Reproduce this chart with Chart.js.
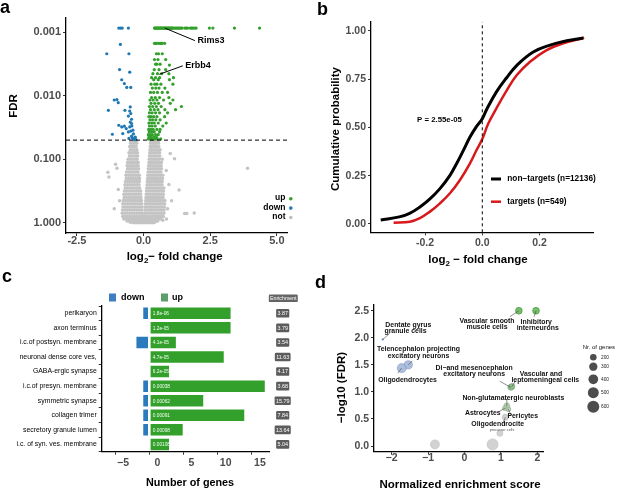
<!DOCTYPE html>
<html><head><meta charset="utf-8">
<script src="https://cdn.jsdelivr.net/npm/chart.js@4.4.1/dist/chart.umd.min.js"></script>
<style>
html,body{margin:0;padding:0;background:#fff;}
#wrap{position:relative;width:617px;height:490px;overflow:hidden;background:#fff;}
#wrap canvas{position:absolute;left:0;top:0;}
</style></head><body>
<div id="wrap">
<canvas id="ca" width="617" height="490"></canvas>
<canvas id="cb" width="617" height="490"></canvas>
<canvas id="cc" width="617" height="490"></canvas>
<canvas id="cd" width="617" height="490"></canvas>
</div>
<script>
// ================= DATA =================
// Panel a: volcano plot (log2 fold change, FDR)
const upPts = [
 [0.41,0.000865],[0.43,0.000865],[0.45,0.000865],[0.48,0.000865],[0.50,0.000865],[0.53,0.000865],[0.55,0.000865],[0.58,0.000865],[0.60,0.000865],[0.63,0.000865],[0.65,0.000865],[0.68,0.000865],[0.70,0.000865],[0.73,0.000865],[0.75,0.000865],[0.78,0.000865],[0.80,0.000865],[0.83,0.000865],[0.85,0.000865],[0.88,0.000865],[0.90,0.000865],[0.93,0.000865],[0.95,0.000865],[0.98,0.000865],[1.00,0.000865],[1.03,0.000865],[1.05,0.000865],[1.08,0.000865],[1.10,0.000865],[1.15,0.000865],[1.20,0.000865],[1.24,0.000865],[1.28,0.000865],[1.32,0.000865],[1.36,0.000865],[1.40,0.000865],[1.45,0.000865],[1.55,0.000865],[1.60,0.000865],[1.65,0.000865],[1.75,0.000865],[1.80,0.000865],[1.85,0.000865],[1.92,0.000865],[1.97,0.000865],[2.47,0.000865],[2.60,0.000865],[3.41,0.000865],[4.35,0.000865],
 [0.41,0.0015],[0.45,0.0015],[0.48,0.0015],[0.55,0.0015],[0.62,0.0015],[0.66,0.0015],[0.70,0.0015],[0.79,0.0015],
 [0.48,0.00219],[0.56,0.00219],[0.70,0.00219],
 [0.41,0.0027],[0.54,0.0027],[0.83,0.0027],
 [0.45,0.0032],[0.50,0.0032],[0.62,0.0032],[0.97,0.0033],
 [0.40,0.0039],[0.58,0.0039],[0.83,0.0039],
 [0.35,0.0045],[0.52,0.0045],[0.68,0.0045],[0.95,0.0045],
 [0.30,0.0052],[0.45,0.0052],[0.60,0.0052],[1.12,0.0052],
 [0.38,0.0056],[0.55,0.0056],[0.97,0.0056],
 [0.28,0.0066],[0.42,0.0066],[0.50,0.0066],[0.65,0.0066],[1.10,0.0066],
 [0.33,0.0076],[0.46,0.0076],[0.58,0.0076],[0.80,0.0076],
 [0.26,0.0089],[0.38,0.0089],[0.52,0.0089],[0.70,0.0089],[0.90,0.0089],
 [0.30,0.0107],[0.44,0.0107],[0.60,0.0107],[0.95,0.0107],
 [0.24,0.0117],[0.36,0.0117],[0.50,0.0117],[0.75,0.0117],[1.10,0.0117],
 [0.28,0.0132],[0.42,0.0132],[0.56,0.0132],[1.00,0.0132],
 [0.22,0.0148],[0.34,0.0148],[0.48,0.0148],[0.66,0.0148],[1.42,0.0148],
 [0.26,0.0166],[0.40,0.0166],[0.54,0.0166],[0.80,0.0166],[1.20,0.0166],
 [0.22,0.0186],[0.32,0.0186],[0.45,0.0186],[0.60,0.0186],[0.90,0.0186],
 [0.20,0.0214],[0.28,0.0214],[0.38,0.0214],[0.50,0.0214],[0.79,0.0214],
 [0.24,0.024],[0.34,0.024],[0.46,0.024],[0.62,0.024],
 [0.20,0.0269],[0.30,0.0269],[0.40,0.0269],[0.55,0.0269],[0.85,0.0269],
 [0.22,0.030],[0.32,0.030],[0.44,0.030],[0.72,0.030],
 [0.19,0.034],[0.27,0.034],[0.36,0.034],[0.50,0.034],[0.62,0.034],
 [0.21,0.037],[0.30,0.037],[0.40,0.037],[0.60,0.037],
 [0.18,0.041],[0.25,0.041],[0.33,0.041],[0.45,0.041],[0.55,0.041],
 [0.20,0.0447],[0.28,0.0447],[0.38,0.0447],[0.48,0.0447],
 [0.18,0.0479],[0.24,0.0479],[0.31,0.0479],[0.42,0.0479],[0.52,0.0479],[0.64,0.0479]
];
const downPts = [
 [-0.93,0.000865],[-0.86,0.000865],[-0.80,0.000865],[-0.57,0.000865],
 [-0.87,0.00156],[-1.38,0.00219],[-0.55,0.00219],[-0.90,0.00389],[-0.52,0.00427],
 [-0.82,0.00562],[-0.72,0.00646],[-0.63,0.00741],[-0.48,0.00741],
 [-1.10,0.0117],[-1.00,0.0115],[-0.95,0.0129],[-1.32,0.0170],
 [-0.70,0.0170],[-0.52,0.0174],[-0.48,0.0191],[-0.57,0.0209],[-0.45,0.0235],[-0.50,0.0150],
 [-0.93,0.0292],[-0.82,0.0310],[-0.72,0.0302],[-0.65,0.0329],[-0.52,0.0310],[-0.45,0.0274],
 [-0.40,0.0349],[-0.57,0.0372],[-0.78,0.0394],[-1.17,0.0404],[-0.45,0.0434],[-0.55,0.0471],
 [-0.42,0.046],[-0.36,0.048],[-0.31,0.045],[-0.38,0.040],[-0.48,0.036],[-0.44,0.030],[-0.50,0.026],[-0.34,0.049],[-0.29,0.049]
];
const notFDR = [0.052,0.056,0.063,0.071,0.079,0.089,0.100,0.112,0.126,0.141,0.158,0.178,0.200,0.224,0.251,0.282,0.316,0.355,0.398,0.447,0.500,0.562,0.631,0.708,0.794,0.871,0.933,0.977,1.0];
const notLFC = [
 [-0.47,-0.40,-0.33,-0.27,0.27,0.34,0.41,0.48,0.55],
 [-0.49,-0.41,-0.34,-0.26,0.26,0.33,0.40,0.47,0.56],
 [-0.52,-0.44,-0.36,-0.28,0.25,0.32,0.40,0.48,0.57],
 [-0.50,-0.42,-0.33,-0.25,0.24,0.31,0.39,0.46,0.54,0.62],
 [-0.55,-0.46,-0.38,-0.30,-0.23,0.23,0.30,0.37,0.45,0.53,0.60],
 [-0.53,-0.45,-0.36,-0.28,-0.22,0.22,0.29,0.37,0.44,0.52,0.61],
 [-0.58,-0.49,-0.41,-0.32,-0.24,0.21,0.28,0.36,0.44,0.52,0.60,0.70],
 [-0.60,-0.51,-0.43,-0.35,-0.27,-0.20,0.20,0.27,0.35,0.43,0.51,0.59,0.67],
 [-0.62,-0.53,-0.45,-0.36,-0.28,-0.20,0.19,0.26,0.34,0.42,0.50,0.58,0.66],
 [-0.60,-0.52,-0.43,-0.35,-0.27,-0.19,0.18,0.26,0.34,0.42,0.50,0.58,0.67],
 [-0.64,-0.55,-0.46,-0.38,-0.29,-0.21,0.17,0.25,0.33,0.41,0.49,0.57,0.65],
 [-0.66,-0.57,-0.48,-0.40,-0.31,-0.23,-0.16,0.16,0.24,0.32,0.40,0.48,0.56,0.64,0.72],
 [-0.65,-0.56,-0.47,-0.38,-0.30,-0.22,-0.15,0.15,0.23,0.31,0.39,0.47,0.55,0.63,0.71],
 [-0.68,-0.59,-0.50,-0.41,-0.32,-0.24,-0.16,0.14,0.22,0.30,0.38,0.46,0.54,0.62,0.70],
 [-0.70,-0.61,-0.52,-0.43,-0.34,-0.25,-0.17,0.13,0.21,0.29,0.37,0.45,0.53,0.61,0.69],
 [-0.69,-0.60,-0.51,-0.42,-0.33,-0.24,-0.15,0.12,0.20,0.28,0.36,0.44,0.52,0.60,0.68,0.76],
 [-0.72,-0.63,-0.54,-0.45,-0.36,-0.27,-0.18,-0.11,0.11,0.19,0.27,0.35,0.43,0.51,0.59,0.67,0.75],
 [-0.74,-0.65,-0.56,-0.47,-0.38,-0.29,-0.20,-0.11,0.10,0.18,0.26,0.34,0.42,0.50,0.58,0.66,0.74],
 [-0.73,-0.64,-0.55,-0.46,-0.37,-0.28,-0.19,-0.10,0.09,0.17,0.25,0.33,0.41,0.49,0.57,0.65,0.73],
 [-0.76,-0.67,-0.58,-0.49,-0.40,-0.31,-0.22,-0.14,-0.08,0.08,0.16,0.24,0.32,0.40,0.48,0.56,0.64,0.72,0.80],
 [-0.78,-0.69,-0.60,-0.51,-0.42,-0.33,-0.24,-0.15,-0.07,0.07,0.15,0.23,0.31,0.39,0.47,0.55,0.63,0.71,0.79],
 [-0.77,-0.68,-0.59,-0.50,-0.41,-0.32,-0.23,-0.14,-0.06,0.06,0.14,0.22,0.30,0.38,0.46,0.54,0.62,0.70,0.78],
 [-0.79,-0.70,-0.61,-0.52,-0.43,-0.34,-0.25,-0.16,-0.07,0.05,0.13,0.21,0.29,0.37,0.45,0.53,0.61,0.69,0.77],
 [-0.80,-0.71,-0.62,-0.53,-0.44,-0.35,-0.26,-0.17,-0.09,-0.04,0.04,0.12,0.20,0.28,0.36,0.44,0.52,0.60,0.68,0.76],
 [-0.78,-0.69,-0.60,-0.51,-0.42,-0.33,-0.24,-0.15,-0.07,-0.03,0.03,0.10,0.18,0.26,0.34,0.42,0.50,0.58,0.66,0.74],
 [-0.74,-0.65,-0.56,-0.47,-0.38,-0.29,-0.20,-0.12,-0.05,0.02,0.09,0.17,0.25,0.33,0.41,0.49,0.57,0.65],
 [-0.62,-0.53,-0.44,-0.35,-0.26,-0.17,-0.09,-0.02,0.05,0.13,0.21,0.29,0.37,0.45,0.53],
 [-0.50,-0.41,-0.32,-0.23,-0.14,-0.06,0.02,0.10,0.18,0.26,0.34,0.42],
 [-0.38,-0.28,-0.18,-0.09,0,0.09,0.18,0.28,0.36]
];
const notOutliers = [[-1.30,0.19],[-1.34,0.16],[-1.0,0.138],[-1.05,0.12],[3.9,0.139],[1.33,0.305],[1.54,0.71],[1.62,0.71],[1.9,0.70],[0.72,0.91],[0.86,0.87],[1.0,0.081],[1.16,0.098],[-0.95,0.30],[-0.9,0.45],[0.95,0.25],[1.05,0.45],[0.9,0.6],[-1.1,0.6],[0.85,0.15]];
const volcanoXTicks = [-2.5, 0, 2.5, 5];
const volcanoYTicks = [0.001, 0.01, 0.1, 1];
const fdrCut = 0.05;
const labeledGenes = ['Rims3', 'Erbb4'];
const labeledGeneLFC = [0.80, 0.59];
const labeledGeneFDR = [0.000865, 0.00461];
const volcanoGroups = ['up', 'down', 'not'];

// Panel b: cumulative distributions
const ntLFC = [-0.355,-0.29,-0.254,-0.218,-0.183,-0.148,-0.113,-0.09,-0.066,-0.043,-0.02,0,0.016,0.05,0.085,0.12,0.178,0.237,0.295,0.353];
const ntCum = [0.021,0.037,0.055,0.088,0.13,0.183,0.252,0.312,0.381,0.45,0.505,0.545,0.595,0.685,0.757,0.82,0.89,0.926,0.948,0.963];
const tLFC = [-0.31,-0.253,-0.218,-0.183,-0.148,-0.113,-0.078,-0.043,-0.02,0,0.021,0.05,0.085,0.12,0.167,0.225,0.283,0.356];
const tCum = [0.007,0.012,0.03,0.064,0.107,0.159,0.228,0.314,0.383,0.44,0.52,0.6,0.69,0.77,0.84,0.9,0.935,0.964];
const cdfXTicks = [-0.2, 0, 0.2];
const cdfYTicks = [0, 0.25, 0.5, 0.75, 1];
const cdfLabels = ['non\u2212targets (n=12136)', 'targets (n=549)'];
const ksText = 'P = 2.55e-05';

// Panel c: GO terms
const goTerms = ['perikaryon','axon terminus','i.c.of postsyn. membrane','neuronal dense core ves,','GABA-ergic synapse','i.c.of presyn. membrane','symmetric synapse','collagen trimer','secretory granule lumen','i.c. of syn. ves. membrane'];
const goDown = [-1,0,-2,0,0,-1,-1,-1,-1,0];
const goUp = [12,12,4,11,3,17,8,14,5,3];
const goP = ['1.8e-06','1.2e-05','4.1e-05','4.7e-05','6.2e-05','0.00038','0.00062','0.00091','0.00098','0.00108'];
const goEnrich = ['3.87','3.79','3.54','11.63','4.17','3.68','15.79','7.84','13.64','5.04'];
const goXTicks = [-5, 0, 5, 10, 15];

// Panel d: cell-type enrichment
const cellTypes = ['Inhibitory interneurons','Vascular smooth muscle cells','Dentate gyrus granule cells','Telencephalon projecting excitatory neurons','Oligodendrocytes','Di\u2212and mesencephalon excitatory neurons','Vascular and leptomeningeal cells','Non-glutamatergic neuroblasts','Astrocytes','Pericytes','Oligodendrocite precursor cells','','',''];
const cellNES = [1.96,1.49,-2.24,-1.54,-1.72,1.27,1.30,1.16,1.11,1.20,1.12,0.97,0.77,-0.81];
const cellNegLogFDR = [2.50,2.50,1.97,1.50,1.44,1.085,1.10,0.74,0.70,0.68,0.53,0.235,0.03,0.03];
const cellNGenes = [210,210,36,290,349,170,170,170,126,126,170,170,508,349];
const sizeLegend = [200,300,400,500,600];
const nesXTicks = [-2,-1,0,1,2];
const fdrYTicks = [0,0.5,1,1.5,2,2.5];

// ================= STYLE =================
const FONT = '"Liberation Sans", Arial, Helvetica, sans-serif';
let narrowOK = false;
(function(){const c=document.createElement('canvas').getContext('2d');c.font='20px "Liberation Sans Narrow", monospace';const a=c.measureText('abcdefghijklmnop').width;c.font='20px monospace';const b=c.measureText('abcdefghijklmnop').width;narrowOK=Math.abs(a-b)>0.5;})();
const NF = narrowOK ? '"Liberation Sans Narrow", "Liberation Sans", sans-serif' : FONT;
const NS = narrowOK ? 1 : 0.82;
Chart.defaults.font.family = FONT;
const W = 617, H = 490;
const GREEN = '#33a02c', BLUE = '#1f78b4', GRAY = 'rgb(196,196,196)';
const TICKCOL = '#4d4d4d';

function T(ctx, s, x, y, size, o) {
  o = o || {};
  ctx.save();
  ctx.font = (o.weight || 'bold') + ' ' + size + 'px ' + (o.family || FONT);
  ctx.fillStyle = o.color || '#000';
  ctx.textAlign = o.align || 'center';
  ctx.textBaseline = o.baseline || 'middle';
  ctx.translate(x, y);
  if (o.rot) ctx.rotate(o.rot);
  ctx.fillText(s, 0, 0);
  ctx.restore();
}
function Ln(ctx, x1, y1, x2, y2, color, w, dash) {
  ctx.save(); ctx.strokeStyle = color; ctx.lineWidth = w; if (dash) ctx.setLineDash(dash);
  ctx.beginPath(); ctx.moveTo(x1, y1); ctx.lineTo(x2, y2); ctx.stroke(); ctx.restore();
}
function Title(ctx, parts, x, y, size, rot) {
  ctx.save(); ctx.translate(x, y); if (rot) ctx.rotate(rot);
  ctx.fillStyle = '#000'; ctx.textBaseline = 'middle'; ctx.textAlign = 'left';
  const big = 'bold ' + size + 'px ' + FONT, small = 'bold ' + (size * 0.7).toFixed(1) + 'px ' + FONT;
  let w = 0; const ws = parts.map(p => { ctx.font = p[1] ? small : big; const m = ctx.measureText(p[0]).width; w += m; return m; });
  let cx = -w / 2;
  parts.forEach((p, i) => { ctx.font = p[1] ? small : big; ctx.fillText(p[0], cx, p[1] ? size * 0.3 : 0); cx += ws[i]; });
  ctx.restore();
}
function rr(ctx, x, y, w, h, r, fill) {
  ctx.save(); ctx.fillStyle = fill; ctx.beginPath();
  ctx.moveTo(x + r, y); ctx.lineTo(x + w - r, y); ctx.quadraticCurveTo(x + w, y, x + w, y + r);
  ctx.lineTo(x + w, y + h - r); ctx.quadraticCurveTo(x + w, y + h, x + w - r, y + h);
  ctx.lineTo(x + r, y + h); ctx.quadraticCurveTo(x, y + h, x, y + h - r);
  ctx.lineTo(x, y + r); ctx.quadraticCurveTo(x, y, x + r, y); ctx.closePath(); ctx.fill(); ctx.restore();
}
function axisStyle(extra) {
  const base = {
    border: { display: true, color: '#000', width: 1.3 },
    grid: { display: true, drawOnChartArea: false, drawTicks: true, tickLength: 3, color: '#333', lineWidth: 1 },
    ticks: { color: TICKCOL, font: { family: FONT, size: 10.5, weight: 'bold' }, padding: 2, maxRotation: 0, autoSkip: false }
  };
  for (const k in extra) {
    if (k === 'ticks' || k === 'grid' || k === 'border') base[k] = Object.assign(base[k], extra[k]);
    else base[k] = extra[k];
  }
  return base;
}
const common = { responsive: false, animation: false, events: [], plugins: { legend: { display: false }, tooltip: { enabled: false } } };
function pad(l, t, r, b, yw, xh) { return { left: l - yw, top: t, right: W - r, bottom: H - b - xh }; }

// ================= PANEL A =================
const xA = { min: -2.91, max: 5.38 }, yA = { min: 0.00061, max: 1.445 };
const notPts = [];
notFDR.forEach((f, i) => notLFC[i].forEach(x => notPts.push({ x: x, y: f })));
notOutliers.forEach(p => notPts.push({ x: p[0], y: p[1] }));
new Chart(document.getElementById('ca'), {
  type: 'scatter',
  data: { datasets: [
    { label: 'FDR 0.05', data: [{ x: xA.min, y: fdrCut }, { x: xA.max, y: fdrCut }], showLine: true, borderColor: '#000', borderWidth: 1, borderDash: [4, 3], pointRadius: 0 },
    { label: 'up', data: upPts.map(p => ({ x: p[0], y: p[1] })), backgroundColor: GREEN, borderWidth: 0, pointRadius: 1.6 },
    { label: 'down', data: downPts.map(p => ({ x: p[0], y: p[1] })), backgroundColor: BLUE, borderWidth: 0, pointRadius: 1.6 },
    { label: 'not', data: notPts, backgroundColor: GRAY, borderWidth: 0, pointRadius: 1.75 }
  ] },
  options: Object.assign({}, common, {
    layout: { padding: pad(66, 18, 287, 233, 40, 20) },
    scales: {
      x: axisStyle({ type: 'linear', min: xA.min, max: xA.max,
        afterFit: s => { s.height = 20; },
        afterBuildTicks: s => { s.ticks = volcanoXTicks.map(v => ({ value: v })); },
        ticks: { padding: -1.5, callback: v => v.toFixed(1), font: { family: FONT, size: 11, weight: 'bold' } } }),
      y: axisStyle({ type: 'logarithmic', reverse: true, min: yA.min, max: yA.max,
        afterFit: s => { s.width = 40; },
        afterBuildTicks: s => { s.ticks = volcanoYTicks.map(v => ({ value: v })); },
        ticks: { callback: v => Number(v).toFixed(3), font: { family: FONT, size: 11, weight: 'bold' } } })
    }
  }),
  plugins: [{ id: 'annA', afterDraw(chart) {
    const ctx = chart.ctx, sx = chart.scales.x, sy = chart.scales.y;
    const ends = [[30, 12.5], [23.5, -8.5]];
    labeledGenes.forEach((g, i) => {
      const px = sx.getPixelForValue(labeledGeneLFC[i]), py = sy.getPixelForValue(labeledGeneFDR[i]);
      Ln(ctx, px, py, px + ends[i][0], py + ends[i][1], '#000', 1);
      T(ctx, g, px + ends[i][0] + 2.5, py + ends[i][1], 9, { align: 'left' });
    });
    const cols = [GREEN, BLUE, 'rgb(190,190,190)'], ys = [198, 207.3, 216.7];
    volcanoGroups.forEach((g, i) => {
      T(ctx, g, 285.5, ys[i], 8.5, { align: 'right' });
      ctx.save(); ctx.fillStyle = cols[i]; ctx.beginPath(); ctx.arc(290.8, ys[i] + 0.8, 1.8, 0, Math.PI * 2); ctx.fill(); ctx.restore();
    });
    T(ctx, 'FDR', 13.5, 106, 11.5, { rot: -Math.PI / 2 });
    Title(ctx, [['log', 0], ['2', 1], ['\u2212 fold change', 0]], 174.7, 257, 11.5);
    T(ctx, 'a', 0, 13, 18, { align: 'left', baseline: 'alphabetic' });
  } }]
});

// ================= PANEL B =================
const xB = { min: -0.389, max: 0.388 }, yB = { min: -0.043, max: 1.047 };
new Chart(document.getElementById('cb'), {
  type: 'scatter',
  data: { datasets: [
    { label: 'zero', data: [{ x: 0, y: yB.min }, { x: 0, y: yB.max }], showLine: true, borderColor: '#000', borderWidth: 1, borderDash: [3, 3], pointRadius: 0 },
    { label: cdfLabels[0], data: ntLFC.map((x, i) => ({ x: x, y: ntCum[i] })), showLine: true, borderColor: '#000', borderWidth: 3, pointRadius: 0, tension: 0.4 },
    { label: cdfLabels[1], data: tLFC.map((x, i) => ({ x: x, y: tCum[i] })), showLine: true, borderColor: '#d7191c', borderWidth: 2.5, pointRadius: 0, tension: 0.4 }
  ] },
  options: Object.assign({}, common, {
    layout: { padding: pad(371, 21.7, 593.3, 232.3, 40, 20) },
    scales: {
      x: axisStyle({ type: 'linear', min: xB.min, max: xB.max,
        afterFit: s => { s.height = 20; },
        afterBuildTicks: s => { s.ticks = cdfXTicks.map(v => ({ value: v })); },
        ticks: { callback: v => v.toFixed(1) } }),
      y: axisStyle({ type: 'linear', min: yB.min, max: yB.max,
        afterFit: s => { s.width = 40; },
        afterBuildTicks: s => { s.ticks = cdfYTicks.map(v => ({ value: v })); },
        ticks: { callback: v => v.toFixed(2) } })
    }
  }),
  plugins: [{ id: 'annB', afterDraw(chart) {
    const ctx = chart.ctx;
    T(ctx, ksText, 439.5, 119.5, 7.8);
    Ln(ctx, 491, 179, 501, 179, '#000', 3);
    Ln(ctx, 491, 201.7, 501, 201.7, '#d7191c', 2.5);
    T(ctx, cdfLabels[0], 507.3, 179, 8.3, { align: 'left' });
    T(ctx, cdfLabels[1], 507.3, 201.7, 8.3, { align: 'left' });
    T(ctx, 'Cumulative probability', 336, 129, 11.5, { rot: -Math.PI / 2 });
    Title(ctx, [['log', 0], ['2', 1], [' \u2212 fold change', 0]], 478, 260, 11.5);
    T(ctx, 'b', 317, 15, 18, { align: 'left', baseline: 'alphabetic' });
  } }]
});

// ================= PANEL C =================
new Chart(document.getElementById('cc'), {
  type: 'bar',
  data: { labels: goTerms, datasets: [
    { label: 'up', data: goUp, backgroundColor: GREEN, borderColor: 'rgba(255,255,255,0.85)', borderWidth: 0.8, borderSkipped: false, barPercentage: 0.9, categoryPercentage: 1 },
    { label: 'down', data: goDown, backgroundColor: '#2a7bbd', borderColor: 'rgba(255,255,255,0.85)', borderWidth: 0.8, borderSkipped: false, barPercentage: 0.9, categoryPercentage: 1 }
  ] },
  options: Object.assign({}, common, {
    indexAxis: 'y',
    layout: { padding: pad(101.7, 306, 269, 451.7, 100, 20) },
    scales: {
      x: axisStyle({ type: 'linear', stacked: true, min: -6.96, max: 17.5,
        afterFit: s => { s.height = 20; },
        afterBuildTicks: s => { s.ticks = goXTicks.map(v => ({ value: v })); },
        ticks: { labelOffset: 8, callback: v => v < 0 ? '\u2212' + (-v) : String(v) } }),
      y: axisStyle({ type: 'category', stacked: true,
        afterFit: s => { s.width = 100; },
        ticks: { color: '#000', font: { family: NF, size: +(8.4 * NS).toFixed(2), weight: 'normal' } } })
    }
  }),
  plugins: [{ id: 'annC', afterDraw(chart) {
    const ctx = chart.ctx, meta = chart.getDatasetMeta(0);
    meta.data.forEach((el, i) => {
      T(ctx, goP[i], el.base + 3, el.y + 0.5, +(5.8 * NS).toFixed(2), { align: 'left', weight: 'normal', family: NF, color: '#f2fff0' });
      ctx.save(); ctx.font = 'normal ' + (6.6 * NS).toFixed(2) + 'px ' + NF;
      const w = ctx.measureText(goEnrich[i]).width + 2.6; ctx.restore();
      rr(ctx, 282.7 - w / 2, el.y - 4.3, w, 8.6, 1.2, '#5c5c5c');
      T(ctx, goEnrich[i], 282.7, el.y + 0.3, +(6.6 * NS).toFixed(2), { weight: 'normal', family: NF, color: '#fff' });
    });
    ctx.save(); ctx.font = 'normal ' + (6.4 * NS).toFixed(2) + 'px ' + NF;
    const hw = ctx.measureText('Enrichment').width + 2.4; ctx.restore();
    rr(ctx, 283.3 - hw / 2, 294.5, hw, 7.6, 1.2, '#646464');
    T(ctx, 'Enrichment', 283.3, 298.5, +(6.4 * NS).toFixed(2), { weight: 'normal', family: NF, color: '#fff' });
    ctx.save(); ctx.fillStyle = '#3f7fbf'; ctx.fillRect(109, 293.5, 7, 8); ctx.fillStyle = '#5d9e6a'; ctx.fillRect(161, 293.5, 7, 8); ctx.restore();
    T(ctx, 'down', 121, 297.5, 9, { align: 'left' });
    T(ctx, 'up', 172, 297.5, 9, { align: 'left' });
    T(ctx, 'Number of genes', 190, 483, 10.8);
    T(ctx, 'c', 2, 282, 18, { align: 'left', baseline: 'alphabetic' });
  } }]
});

// ================= PANEL D =================
const rOf = n => Math.sqrt(Math.max(0.6, 0.0628 * n - 1.65));
const bubbleFill = ['rgba(92,180,80,0.85)','rgba(92,180,80,0.85)','rgba(120,150,200,0.9)','rgba(160,180,215,0.85)','rgba(160,180,215,0.85)','rgba(140,185,135,0.8)','rgba(140,185,135,0.8)','rgba(170,198,165,0.8)','rgba(170,198,165,0.8)','rgba(170,198,165,0.8)','rgba(200,204,200,0.85)','rgba(205,205,205,0.9)','rgba(205,205,205,0.9)','rgba(205,205,205,0.9)'];
const bubbleEdge = ['#3f8f3a','#3f8f3a','#5a7fb5','#7d95c2','#7d95c2','#6f9f6b','#6f9f6b','#8fae8b','#8fae8b','#8fae8b','#a8aca8','#bdbdbd','#bdbdbd','#bdbdbd'];
new Chart(document.getElementById('cd'), {
  type: 'bubble',
  data: { datasets: [{ label: 'cell types', data: cellNES.map((x, i) => ({ x: x, y: cellNegLogFDR[i], r: rOf(cellNGenes[i]) })), backgroundColor: bubbleFill, borderColor: bubbleEdge, borderWidth: 0.6 }] },
  options: Object.assign({}, common, {
    layout: { padding: pad(374, 305, 543.3, 451.7, 40, 20) },
    scales: {
      x: axisStyle({ type: 'linear', min: -2.48, max: 2.16,
        afterFit: s => { s.height = 20; },
        afterBuildTicks: s => { s.ticks = nesXTicks.map(v => ({ value: v })); },
        ticks: { padding: -2.5, callback: v => v < 0 ? '\u2212' + (-v) : String(v) } }),
      y: axisStyle({ type: 'linear', min: -0.105, max: 2.606,
        afterFit: s => { s.width = 40; },
        afterBuildTicks: s => { s.ticks = fdrYTicks.map(v => ({ value: v })); },
        ticks: { callback: v => v.toFixed(1) } })
    }
  }),
  plugins: [{ id: 'annD', afterDraw(chart) {
    const ctx = chart.ctx, sx = chart.scales.x, sy = chart.scales.y;
    const P = i => [sx.getPixelForValue(cellNES[i]), sy.getPixelForValue(cellNegLogFDR[i])];
    const leads = [[0, -2, 6], [1, -9, 6], [2, 7, -6], [3, 4, -4], [4, -4, 5], [5, -11, -6], [6, 4, -6], [7, 0, -7], [8, -5, 3], [9, 3, 6], [10, -2.5, 6]];
    leads.forEach(l => { const p = P(l[0]); Ln(ctx, p[0], p[1], p[0] + l[1], p[1] + l[2], '#444', 0.6); });
    const fs = 6.9;
    const labs = [
      ['Inhibitory', 536.2, 321.7], ['interneurons', 537.7, 328],
      ['Vascular smooth', 487, 320.7], ['muscle cells', 487, 326.9],
      ['Dentate gyrus', 408.3, 325], ['granule cells', 405.5, 331.2],
      ['Telencephalon projecting', 418.5, 349.3], ['excitatory neurons', 418.5, 355.6],
      ['Oligodendrocytes', 407.5, 380],
      ['Di\u2212and mesencephalon', 474.2, 368.3], ['excitatory neurons', 474.2, 374.5],
      ['Vascular and', 541, 374], ['leptomeningeal cells', 545.3, 380.2],
      ['Non-glutamatergic neuroblasts', 513.3, 398.3],
      ['Astrocytes', 482.8, 412.7], ['Pericytes', 522.7, 415.7],
      ['Oligodendrocite', 497.7, 424]
    ];
    labs.forEach(l => T(ctx, l[0], l[1], l[2], fs, { color: '#111' }));
    T(ctx, 'precursor cells', 502, 429.8, 3.8, { weight: 'normal', color: '#555' });
    T(ctx, 'Nr. of genes', 582.7, 347.7, 6, { align: 'left', weight: 'normal', color: '#111' });
    const ly = [357.3, 366.7, 379.3, 392.7, 406.7];
    sizeLegend.forEach((n, i) => {
      ctx.save(); ctx.fillStyle = '#4d4d4d'; ctx.beginPath(); ctx.arc(593.3, ly[i], rOf(n), 0, Math.PI * 2); ctx.fill(); ctx.restore();
      T(ctx, String(n), 601, ly[i], 4.8, { align: 'left', weight: 'normal', color: '#222' });
    });
    T(ctx, '\u2212log10 (FDR)', 341.7, 387.5, 11.5, { rot: -Math.PI / 2 });
    T(ctx, 'Normalized enrichment score', 460, 485, 11.5);
    T(ctx, 'd', 315, 288, 18, { align: 'left', baseline: 'alphabetic' });
  } }]
});
</script>
</body></html>
